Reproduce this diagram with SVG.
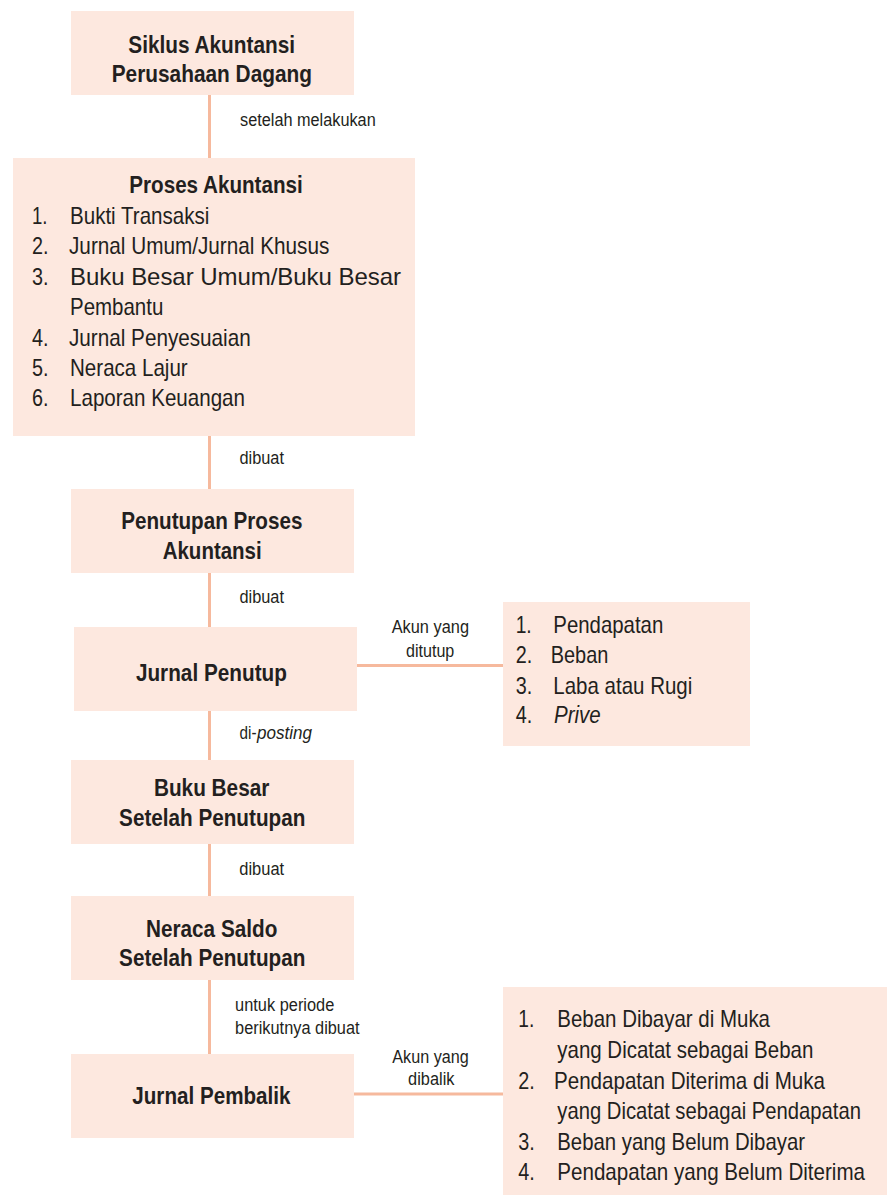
<svg xmlns="http://www.w3.org/2000/svg" width="887" height="1195" viewBox="0 0 887 1195">
<style>
.box{fill:#FDE8DF}
.c{stroke:#F6B99D;stroke-width:3;fill:none}
text{font-family:"Liberation Sans Narrow","Liberation Sans",Arial,sans-serif;fill:#231F20}
.b{font-size:24.5px;font-weight:bold}
.t{font-size:24px}
.l{font-size:17.5px}
.i{font-style:italic}
</style>
<rect width="887" height="1195" fill="#FFFFFF"/>
<g id="connectors">
<line class="c" x1="209.5" y1="95" x2="209.5" y2="158"/>
<line class="c" x1="209.5" y1="436" x2="209.5" y2="489"/>
<line class="c" x1="209.5" y1="573" x2="209.5" y2="627"/>
<line class="c" x1="209.5" y1="711" x2="209.5" y2="760"/>
<line class="c" x1="209.5" y1="844" x2="209.5" y2="896"/>
<line class="c" x1="209.5" y1="980" x2="209.5" y2="1054"/>
<line class="c" x1="357" y1="665.5" x2="503" y2="665.5"/>
<line class="c" x1="354" y1="1094" x2="503" y2="1094"/>
<text class="l" x="240" y="126" textLength="135.7" lengthAdjust="spacingAndGlyphs">setelah melakukan</text>
<text class="l" x="239.5" y="464" textLength="44.5" lengthAdjust="spacingAndGlyphs">dibuat</text>
<text class="l" x="239.5" y="603" textLength="44.5" lengthAdjust="spacingAndGlyphs">dibuat</text>
<text class="l" x="239.5" y="738.5" textLength="17" lengthAdjust="spacingAndGlyphs">di-</text>
<text class="l i" x="257" y="738.5" textLength="55" lengthAdjust="spacingAndGlyphs">posting</text>
<text class="l" x="239.3" y="874.5" textLength="44.9" lengthAdjust="spacingAndGlyphs">dibuat</text>
<text class="l" x="235.1" y="1011" textLength="99.2" lengthAdjust="spacingAndGlyphs">untuk periode</text>
<text class="l" x="235.1" y="1034" textLength="124.5" lengthAdjust="spacingAndGlyphs">berikutnya dibuat</text>
<text class="l" x="391.7" y="633.3" textLength="77.3" lengthAdjust="spacingAndGlyphs">Akun yang</text>
<text class="l" x="406" y="657.3" textLength="48.3" lengthAdjust="spacingAndGlyphs">ditutup</text>
<text class="l" x="392.3" y="1062.7" textLength="76.5" lengthAdjust="spacingAndGlyphs">Akun yang</text>
<text class="l" x="408.1" y="1085" textLength="46.4" lengthAdjust="spacingAndGlyphs">dibalik</text>
</g>
<g id="siklus">
<rect class="box" x="71" y="11" width="283" height="84"/>
<text class="b" x="128.3" y="52.5" textLength="166.7" lengthAdjust="spacingAndGlyphs">Siklus Akuntansi</text>
<text class="b" x="111.7" y="81.7" textLength="200.3" lengthAdjust="spacingAndGlyphs">Perusahaan Dagang</text>
</g>
<g id="proses">
<rect class="box" x="13" y="158" width="402" height="278"/>
<text class="b" x="129.3" y="192.5" textLength="173.4" lengthAdjust="spacingAndGlyphs">Proses Akuntansi</text>
<text class="t" x="32" y="224" textLength="15.5" lengthAdjust="spacingAndGlyphs">1.</text>
<text class="t" x="70" y="224" textLength="139.3" lengthAdjust="spacingAndGlyphs">Bukti Transaksi</text>
<text class="t" x="32" y="254" textLength="16.5" lengthAdjust="spacingAndGlyphs">2.</text>
<text class="t" x="69" y="254" textLength="260.3" lengthAdjust="spacingAndGlyphs">Jurnal Umum/Jurnal Khusus</text>
<text class="t" x="32" y="285" textLength="16.5" lengthAdjust="spacingAndGlyphs">3.</text>
<text class="t" x="70" y="285" textLength="331" lengthAdjust="spacing">Buku Besar Umum/Buku Besar</text>
<text class="t" x="70" y="315" textLength="93.3" lengthAdjust="spacingAndGlyphs">Pembantu</text>
<text class="t" x="32" y="345.7" textLength="16.5" lengthAdjust="spacingAndGlyphs">4.</text>
<text class="t" x="69" y="345.7" textLength="181.7" lengthAdjust="spacingAndGlyphs">Jurnal Penyesuaian</text>
<text class="t" x="32" y="375.7" textLength="16.5" lengthAdjust="spacingAndGlyphs">5.</text>
<text class="t" x="70" y="375.7" textLength="117.7" lengthAdjust="spacingAndGlyphs">Neraca Lajur</text>
<text class="t" x="32" y="406" textLength="16.5" lengthAdjust="spacingAndGlyphs">6.</text>
<text class="t" x="70" y="406" textLength="175" lengthAdjust="spacingAndGlyphs">Laporan Keuangan</text>
</g>
<g id="penutupan">
<rect class="box" x="71" y="489" width="283" height="84"/>
<text class="b" x="121.2" y="529.3" textLength="181.2" lengthAdjust="spacingAndGlyphs">Penutupan Proses</text>
<text class="b" x="162.7" y="558.5" textLength="99" lengthAdjust="spacingAndGlyphs">Akuntansi</text>
</g>
<g id="jurnal-penutup">
<rect class="box" x="74" y="627" width="283" height="84"/>
<text class="b" x="135.9" y="680.7" textLength="151" lengthAdjust="spacingAndGlyphs">Jurnal Penutup</text>
</g>
<g id="akun-ditutup">
<rect class="box" x="503" y="602" width="247" height="144"/>
<text class="t" x="515.7" y="633.3" textLength="16" lengthAdjust="spacingAndGlyphs">1.</text>
<text class="t" x="553.3" y="633.3" textLength="110" lengthAdjust="spacingAndGlyphs">Pendapatan</text>
<text class="t" x="515.7" y="663.3" textLength="16.5" lengthAdjust="spacingAndGlyphs">2.</text>
<text class="t" x="550.7" y="663.3" textLength="57.6" lengthAdjust="spacingAndGlyphs">Beban</text>
<text class="t" x="515.7" y="694.3" textLength="16.5" lengthAdjust="spacingAndGlyphs">3.</text>
<text class="t" x="553.3" y="694.3" textLength="139" lengthAdjust="spacingAndGlyphs">Laba atau Rugi</text>
<text class="t" x="515.7" y="723.3" textLength="16.5" lengthAdjust="spacingAndGlyphs">4.</text>
<text class="t i" x="554" y="723.3" textLength="46.7" lengthAdjust="spacingAndGlyphs">Prive</text>
</g>
<g id="buku-besar">
<rect class="box" x="71" y="760" width="283" height="84"/>
<text class="b" x="153.9" y="796" textLength="115.5" lengthAdjust="spacingAndGlyphs">Buku Besar</text>
<text class="b" x="119.1" y="826" textLength="186.2" lengthAdjust="spacingAndGlyphs">Setelah Penutupan</text>
</g>
<g id="neraca-saldo">
<rect class="box" x="71" y="896" width="283" height="84"/>
<text class="b" x="146" y="936.7" textLength="131.3" lengthAdjust="spacingAndGlyphs">Neraca Saldo</text>
<text class="b" x="119.1" y="966" textLength="186.2" lengthAdjust="spacingAndGlyphs">Setelah Penutupan</text>
</g>
<g id="jurnal-pembalik">
<rect class="box" x="71" y="1054" width="283" height="84"/>
<text class="b" x="132.3" y="1104.3" textLength="158.2" lengthAdjust="spacingAndGlyphs">Jurnal Pembalik</text>
</g>
<g id="akun-dibalik">
<rect class="box" x="503" y="987" width="384" height="208"/>
<text class="t" x="518.3" y="1026.7" textLength="16" lengthAdjust="spacingAndGlyphs">1.</text>
<text class="t" x="557.3" y="1026.7" textLength="212.7" lengthAdjust="spacingAndGlyphs">Beban Dibayar di Muka</text>
<text class="t" x="557.3" y="1057.7" textLength="256" lengthAdjust="spacingAndGlyphs">yang Dicatat sebagai Beban</text>
<text class="t" x="518.3" y="1088.7" textLength="16.5" lengthAdjust="spacingAndGlyphs">2.</text>
<text class="t" x="554" y="1088.7" textLength="271" lengthAdjust="spacingAndGlyphs">Pendapatan Diterima di Muka</text>
<text class="t" x="557.3" y="1119.3" textLength="303.7" lengthAdjust="spacingAndGlyphs">yang Dicatat sebagai Pendapatan</text>
<text class="t" x="518.3" y="1150" textLength="16.5" lengthAdjust="spacingAndGlyphs">3.</text>
<text class="t" x="557.3" y="1150" textLength="247.7" lengthAdjust="spacingAndGlyphs">Beban yang Belum Dibayar</text>
<text class="t" x="518.3" y="1180" textLength="16.5" lengthAdjust="spacingAndGlyphs">4.</text>
<text class="t" x="557.3" y="1180" textLength="307.7" lengthAdjust="spacingAndGlyphs">Pendapatan yang Belum Diterima</text>
</g>
</svg>
